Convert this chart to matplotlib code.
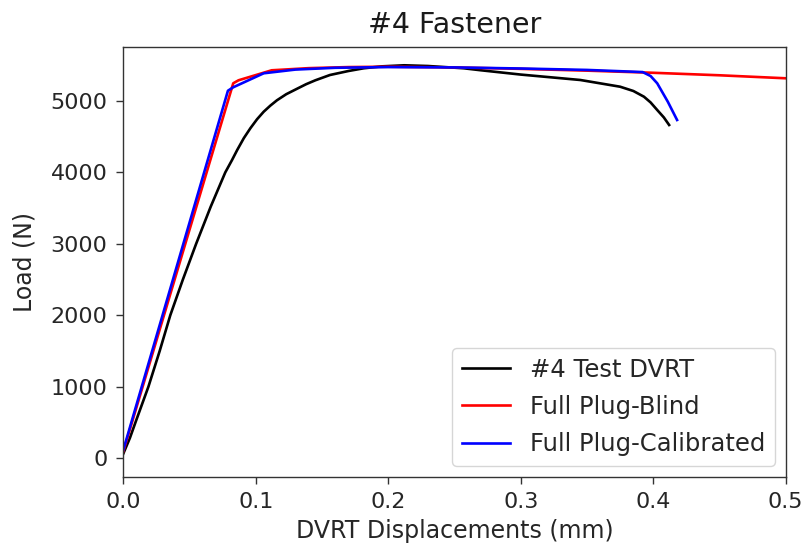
import matplotlib
matplotlib.use("Agg")
import matplotlib.pyplot as plt

# Test measurement: DVRT displacement (mm) vs load (N)
test_x = [0.0, 0.005, 0.010, 0.019, 0.0275, 0.0355, 0.045, 0.055, 0.066, 0.077,
          0.082, 0.086, 0.091, 0.096, 0.101, 0.106, 0.111, 0.116, 0.123, 0.131,
          0.138, 0.145, 0.156, 0.170, 0.1815, 0.195, 0.212, 0.230, 0.257, 0.270,
          0.300, 0.345, 0.375, 0.385, 0.393, 0.398, 0.403, 0.408, 0.412]
test_y = [60, 280, 540, 1000, 1500, 2000, 2500, 3000, 3520, 4000,
          4170, 4314, 4480, 4620, 4745, 4850, 4935, 5010, 5095, 5170,
          5235, 5290, 5364, 5420, 5458, 5485, 5500, 5490, 5458, 5430,
          5370, 5294, 5200, 5140, 5060, 4980, 4874, 4770, 4664]

# Model prediction, blind parameters
blind_x = [0.0, 0.083, 0.087, 0.112, 0.140, 0.170, 0.200, 0.250, 0.300, 0.350,
           0.400, 0.450, 0.500]
blind_y = [90, 5248, 5290, 5430, 5460, 5475, 5480, 5470, 5450, 5425,
           5395, 5360, 5318]

# Model prediction, calibrated parameters
cal_x = [0.0, 0.079, 0.083, 0.106, 0.130, 0.160, 0.200, 0.250, 0.300, 0.350,
         0.392, 0.398, 0.403, 0.411, 0.418]
cal_y = [110, 5144, 5192, 5388, 5440, 5465, 5475, 5470, 5455, 5435,
         5405, 5350, 5248, 4990, 4734]

labels = ["#4 Test DVRT", "Full Plug-Blind", "Full Plug-Calibrated"]
x_ticks = [0.0, 0.1, 0.2, 0.3, 0.4, 0.5]
y_ticks = [0, 1000, 2000, 3000, 4000, 5000]

plt.rcParams["font.family"] = "DejaVu Sans"

fig = plt.figure(figsize=(8.02, 5.53), dpi=100)
ax = fig.add_axes([0.1537, 0.1374, 0.9797 - 0.1537, 0.9159 - 0.1374])

lw = 1.9
ax.plot(test_x, test_y, color="black", lw=lw, label=labels[0])
ax.plot(blind_x, blind_y, color="red", lw=lw, label=labels[1])
ax.plot(cal_x, cal_y, color="blue", lw=lw, label=labels[2])

ax.set_xlim(0.0, 0.5)
ax.set_ylim(-266, 5763)
ax.set_xticks(x_ticks)
ax.set_yticks(y_ticks)

for s in ax.spines.values():
    s.set_linewidth(1.0)
    s.set_color("#333333")
ax.tick_params(axis="both", labelsize=16, length=5.3, width=1.0,
               color="#333333", labelcolor="#262626")
ax.tick_params(axis="x", pad=5.8)
ax.tick_params(axis="y", pad=6.0)

ax.set_title("#4 Fastener", fontsize=20.5, pad=10, color="#1a1a1a")
ax.set_xlabel("DVRT Displacements (mm)", fontsize=17, labelpad=5, color="#262626")
ax.set_ylabel("Load (N)", fontsize=17, labelpad=10, color="#262626")

leg = ax.legend(loc="lower right", fontsize=17.5, frameon=True,
                labelspacing=0.55, borderaxespad=0.45)
for t in leg.get_texts():
    t.set_color("#262626")

fig.savefig("out.png", dpi=100)
